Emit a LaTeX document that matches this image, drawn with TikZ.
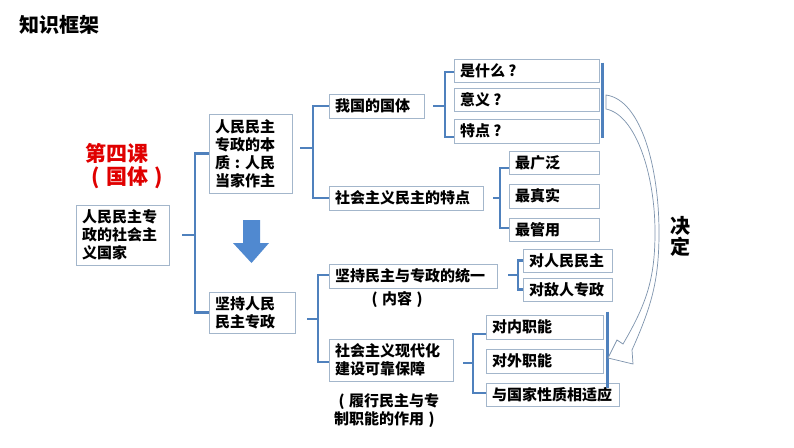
\documentclass[tikz,border=0pt]{standalone}
\usepackage{fontspec}
\setmainfont{Noto Sans CJK SC}
\usetikzlibrary{calc}
\definecolor{bcol}{HTML}{A3B6CB}
\definecolor{ccol}{HTML}{4F81BD}
\definecolor{acol}{HTML}{5089D0}
\definecolor{hcol}{HTML}{7D93AD}
\definecolor{rcol}{HTML}{E00000}
\newcommand\mylp{\makebox[1em][c]{(}}
\newcommand\myrp{\makebox[1em][c]{)}}
\newcommand\myqm{\makebox[1em][c]{?}}
\newcommand\mycl{\makebox[1em][c]{:}}
\tikzset{
  bx/.style={draw=bcol, line width=0.9pt, fill=white, inner xsep=6pt, inner ysep=0pt,
    align=left, font=\bfseries\fontsize{15}{18}\selectfont},
  conn/.style={draw=ccol, line width=2.4pt, line join=miter},
  rbar/.style={draw=ccol, line width=2.4pt},
  lbl/.style={inner sep=0pt, font=\bfseries\fontsize{15}{18}\selectfont, align=left},
}
\begin{document}
\begin{tikzpicture}[x=1pt,y=-1pt]
\useasboundingbox (0,0) rectangle (794,447);
\fill[white] (0,0) rectangle (794,447);

% title
\node[inner sep=0pt, anchor=west, font=\bfseries\fontsize{20}{22}\selectfont] (title) at (19,25) {知识框架};
\node[inner sep=0pt, anchor=west, text=rcol, font=\bfseries\fontsize{21}{23}\selectfont] (lesson) at (85,153) {第四课};
\node[inner sep=0pt, anchor=center, text=rcol, font=\bfseries\fontsize{21}{23}\selectfont] (topic) at (127,178) {\mylp 国体\myrp};

% boxes
\node[bx, text width=81pt, minimum height=60pt] (b1) at (122.5,235) {人民民主专\\政的社会主\\义国家};
\node[bx, text width=71pt, minimum height=79pt] (b2) at (250.5,153.5) {人民民主\\专政的本\\质\mycl 人民\\当家作主};
\node[bx, text width=74pt, minimum height=41pt] (b3) at (252,312.5) {坚持人民\\民主专政};

\node[bx, text width=83pt, minimum height=24pt] (c1) at (376.5,106) {我国的国体};
\node[bx, text width=142pt, minimum height=24pt] (c2) at (406,198) {社会主义民主的特点};
\node[bx, text width=156pt, minimum height=24pt] (c3) at (413,276) {坚持民主与专政的统一};
\node[bx, text width=112pt, minimum height=42pt] (c4) at (391,360) {社会主义现代化\\建设可靠保障};

\node[bx, text width=133pt, minimum height=23pt] (d1) at (526.5,70.5) {是什么\myqm};
\node[bx, text width=133pt, minimum height=23pt] (d2) at (526.5,99.5) {意义\myqm};
\node[bx, text width=133pt, minimum height=24pt] (d3) at (526.5,131) {特点\myqm};

\node[bx, text width=78pt, minimum height=23pt] (e1) at (554,162.5) {最广泛};
\node[bx, text width=78pt, minimum height=24pt] (e2) at (554,196) {最真实};
\node[bx, text width=78pt, minimum height=23pt] (e3) at (554,229.5) {最管用};

\node[bx, text width=77pt, minimum height=23pt] (f1) at (567.5,260.5) {对人民民主};
\node[bx, text width=77pt, minimum height=23pt] (f2) at (567.5,289.5) {对敌人专政};

\node[bx, text width=105pt, minimum height=24pt] (g1) at (544.5,327) {对内职能};
\node[bx, text width=105pt, minimum height=24pt] (g2) at (544.5,361) {对外职能};
\node[bx, text width=121pt, minimum height=23pt] (g3) at (552.5,394.5) {与国家性质相适应};

% side labels
\node[lbl, anchor=center] (neirong) at (397,300) {\mylp 内容\myrp};
\node[lbl, anchor=north west] (zuoyong) at (334,393) {\mylp 履行民主与专\\制职能的作用\myrp};
\node[inner sep=0pt, align=center, font=\bfseries\fontsize{20}{21}\selectfont] (jueding) at (680,236) {决\\定};

% connectors
\coordinate (j1) at (195,235);
\draw[conn] ([xshift=13pt]b1.east) -- (j1);
\draw[conn] (b2.west) -| (j1) |- (b3.west);

\coordinate (j2) at (313,148);
\draw[conn] ([xshift=8pt]b2.east |- j2) -- (j2);
\draw[conn] (c1.west) -| (j2) |- (c2.west);

\coordinate (j3) at (445,106);
\draw[conn] ([xshift=9pt]c1.east) -- (j3);
\draw[conn] ([yshift=-1.5pt]d1.west) -| (j3) |- ([yshift=-6pt]d3.west);

\coordinate (j4) at (500,198);
\draw[conn] ([xshift=10pt]c2.east) -- (j4);
\draw[conn] ([yshift=-5.5pt]e1.west) -| (j4) |- ([yshift=1.5pt]e3.west);

\coordinate (j5) at (318,319);
\draw[conn] ([xshift=12pt]b3.east |- j5) -- (j5);
\draw[conn] ([yshift=1pt]c3.west) -| (j5) |- ([yshift=-2pt]c4.west);

\coordinate (j6) at (518,275);
\draw[conn] ([xshift=11pt]c3.east |- j6) -- (j6);
\draw[conn] (f1.west) -| (j6) |- (f2.west);

\coordinate (j7) at (473,363);
\draw[conn] ([xshift=10pt]c4.east |- j7) -- (j7);
\draw[conn] ([yshift=-7pt]g1.west) -| (j7) |- ([yshift=1.5pt]g3.west);

% right bars
\draw[rbar] ([shift={(3pt,-4pt)}]d1.north east) -- ([shift={(3pt,5pt)}]d3.south east);
\draw[rbar] ([shift={(4pt,3pt)}]g1.north east) -- ([shift={(4pt,-5pt)}]g1.east |- g3.north);

% down arrow
\fill[acol] (243,220) -- (260,220) -- (260,243) -- (269,243) -- (251.5,263) -- (233,243) -- (243,243) -- cycle;

% hollow curved arrow
\draw[draw=hcol, line width=0.7pt, fill=white, line join=miter]
  (606,95) .. controls (642,100) and (659,170) .. (659,232)
  .. controls (659,280) and (652,305) .. (632,350)
  -- (633,364) -- (608,358) -- (617,340) -- (623,344)
  .. controls (647,303) and (655,278) .. (655,232)
  .. controls (655,175) and (636,115) .. (606,109) -- cycle;
\end{tikzpicture}
\end{document}
